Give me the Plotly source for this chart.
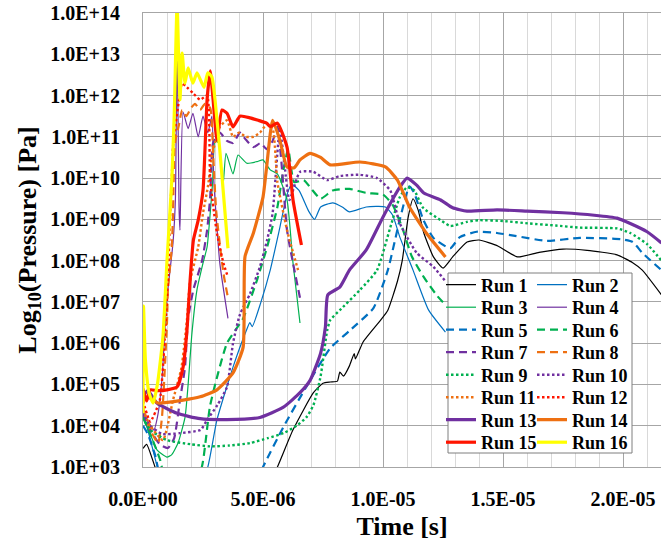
import plotly.graph_objects as go

# ---- data: time in microseconds, pressure as log10(Pa) ----
run1_t = [0.0, 0.15, 0.5, 0.9, 5.0, 5.6, 6.25, 7.1, 7.5, 7.8, 8.1, 8.2, 8.35, 8.6, 8.8, 8.85, 9.17, 9.9, 10.2, 10.6, 10.8, 11.05, 11.25, 11.46, 11.7, 12.1, 12.5, 12.9, 13.5, 14.0, 14.8, 15.6, 16.5, 17.5, 18.5, 19.75, 20.4, 20.8, 21.6]
run1_p = [3.45, 3.55, 3.0, 2.3, 2.3, 3.0, 3.9, 4.8, 5.03, 5.06, 5.08, 5.3, 5.2, 5.45, 5.75, 5.62, 6.03, 6.56, 6.8, 7.5, 8.0, 9.06, 9.5, 9.23, 8.67, 8.09, 7.82, 8.09, 8.45, 8.5, 8.35, 8.09, 8.2, 8.28, 8.25, 8.14, 7.95, 7.77, 7.17]

run2_t = [0.0, 0.2, 0.6, 1.0, 2.2, 2.7, 3.08, 3.75, 4.3, 4.45, 4.55, 4.9, 5.3, 5.7, 6.0, 6.2, 6.5, 6.9, 7.15, 7.4, 7.9, 8.3, 8.6, 9.3, 10.1, 10.4, 10.7, 11.25, 11.9, 12.6]
run2_p = [4.3, 3.9, 3.0, 2.3, 2.3, 3.0, 4.14, 5.42, 6.3, 6.5, 6.4, 6.97, 7.77, 8.8, 9.6, 9.85, 9.7, 9.2, 9.0, 9.3, 9.4, 9.3, 9.18, 9.3, 9.3, 9.1, 8.57, 7.77, 6.8, 6.27]

run3_t = [0.0, 0.3, 0.6, 1.0, 1.2, 1.46, 1.75, 1.88, 2.04, 2.25, 2.5, 2.67, 2.8, 2.9, 3.0, 3.15, 3.33, 3.46, 3.75, 3.96, 4.33, 4.75, 5.0, 5.3, 5.6, 6.0, 6.25, 6.54]
run3_p = [4.2, 3.8, 3.4, 3.24, 3.3, 3.58, 4.2, 5.0, 6.25, 7.3, 7.94, 8.33, 9.15, 9.9, 10.9, 10.85, 9.8, 10.6, 10.1, 10.56, 10.36, 10.4, 10.44, 10.2, 10.1, 9.47, 7.94, 6.49]

run4_t = [0.0, 0.2, 0.45, 0.63, 0.8, 0.92, 1.0, 1.25, 1.35, 1.42, 1.5, 1.54, 1.67, 1.88, 2.08, 2.3, 2.5, 2.7, 2.87, 2.95, 3.2, 3.54]
run4_p = [4.4, 4.1, 3.9, 4.3, 5.2, 6.4, 7.1, 8.43, 9.5, 13.6, 9.3, 8.74, 11.6, 11.2, 11.57, 11.0, 11.5, 11.1, 11.5, 9.95, 7.94, 6.6]

run5_t = [0.0, 0.2, 0.5, 0.9, 4.5, 5.0, 5.85, 6.8, 7.8, 8.6, 9.6, 10.2, 10.7, 11.1, 11.3, 11.67, 12.1, 12.8, 13.2, 13.9, 14.75, 15.5, 16.8, 18.2, 19.9, 20.4, 20.8, 21.6]
run5_p = [4.0, 3.8, 3.3, 2.5, 2.3, 3.0, 3.97, 4.94, 5.88, 6.3, 6.85, 7.77, 9.0, 9.8, 9.64, 9.0, 8.55, 8.3, 8.57, 8.7, 8.67, 8.6, 8.48, 8.55, 8.52, 8.45, 8.19, 7.77]

run6_t = [0.0, 0.3, 0.7, 1.0, 2.0, 2.45, 2.8, 3.5, 4.17, 4.75, 5.17, 5.6, 5.85, 6.05, 6.3, 6.7, 7.0, 7.4, 7.9, 8.6, 9.3, 10.0, 10.4, 10.8, 11.2, 11.7, 12.25, 12.6]
run6_p = [4.2, 3.8, 3.2, 2.6, 2.5, 3.0, 4.5, 6.0, 6.6, 7.53, 8.33, 9.3, 10.2, 10.7, 9.9, 9.95, 9.75, 9.5, 9.7, 9.74, 9.64, 9.6, 9.35, 8.8, 8.1, 7.6, 7.15, 6.93]

run7_t = [0.0, 0.3, 0.7, 1.04, 1.3, 1.54, 1.75, 1.88, 2.1, 2.46, 2.67, 2.8, 2.92, 3.2, 3.5, 3.75, 4.04, 4.3, 4.6, 4.9, 5.15, 5.4, 5.6, 5.75, 6.0, 6.25, 6.54]
run7_p = [4.3, 3.9, 3.55, 3.46, 3.7, 4.62, 5.42, 6.6, 7.3, 8.0, 8.74, 9.54, 10.85, 11.1, 10.9, 10.85, 11.1, 10.92, 10.75, 10.85, 10.7, 10.9, 11.24, 10.5, 8.74, 7.94, 7.1]

run8_t = [0.0, 0.3, 0.63, 0.79, 1.0, 1.04, 1.2, 1.25, 1.33, 1.5, 1.63, 1.8, 2.0, 2.17, 2.38, 2.58, 2.8, 2.92, 3.05, 3.35, 3.54]
run8_p = [4.4, 3.9, 3.58, 4.2, 6.5, 7.3, 8.33, 9.15, 10.85, 11.3, 11.65, 11.5, 11.7, 11.8, 11.65, 11.8, 11.7, 10.6, 9.2, 7.7, 7.1]

run9_t = [0.0, 0.3, 1.0, 2.0, 2.8, 3.6, 4.46, 5.2, 5.85, 6.4, 6.8, 7.1, 7.4, 7.67, 7.8, 8.2, 9.04, 9.75, 10.3, 10.7, 11.0, 11.3, 11.67, 12.4, 12.8, 13.5, 14.0, 15.0, 16.1, 17.2, 18.2, 19.75, 20.3, 21.0, 21.6]
run9_p = [4.2, 3.9, 3.65, 3.55, 3.5, 3.52, 3.58, 3.7, 3.82, 4.0, 4.2, 4.5, 5.2, 6.3, 6.56, 6.8, 7.29, 7.77, 8.8, 9.54, 9.78, 9.7, 9.28, 8.98, 8.84, 8.94, 8.98, 8.96, 8.9, 8.85, 8.8, 8.78, 8.67, 8.4, 8.0]

run10_t = [0.0, 0.3, 0.8, 1.54, 2.4, 2.67, 3.1, 3.5, 3.75, 4.04, 4.46, 4.87, 5.17, 5.4, 5.7, 5.9, 6.1, 6.54, 7.1, 7.67, 8.2, 9.04, 9.75, 10.3, 10.7, 11.4, 12.1, 12.6]
run10_p = [4.3, 4.0, 3.8, 3.82, 3.9, 4.14, 4.5, 4.94, 6.0, 6.7, 7.2, 7.85, 8.5, 9.15, 11.2, 10.3, 9.47, 10.15, 10.15, 9.95, 10.05, 10.08, 10.0, 9.7, 8.9, 8.19, 7.85, 7.5]

run11_t = [0.0, 0.3, 0.83, 1.25, 1.6, 1.83, 1.96, 2.3, 2.5, 2.7, 2.9, 3.2, 3.5, 3.75, 4.0, 4.3, 4.6, 4.87, 5.15, 5.4, 5.6, 6.0, 6.25, 6.46]
run11_p = [4.4, 4.0, 3.65, 4.62, 5.4, 6.56, 7.5, 8.33, 9.15, 9.78, 10.6, 11.24, 11.4, 11.0, 11.1, 11.0, 11.0, 11.1, 11.3, 11.2, 9.9, 8.74, 8.2, 7.77]

run12_t = [0.0, 0.3, 0.7, 0.92, 1.0, 1.04, 1.13, 1.2, 1.25, 1.54, 1.63, 1.83, 2.08, 2.38, 2.67, 2.8, 3.08, 3.35, 3.54]
run12_p = [4.6, 4.1, 4.62, 6.25, 7.05, 7.5, 9.15, 9.95, 10.75, 12.06, 12.3, 12.2, 12.06, 11.9, 12.0, 9.95, 8.67, 7.94, 7.6]

run13_t = [0.0, 0.2, 0.58, 1.42, 2.38, 3.5, 4.87, 5.85, 6.54, 6.96, 7.4, 7.6, 7.7, 8.2, 8.6, 9.3, 10.0, 10.7, 11.0, 11.4, 11.7, 12.4, 12.9, 13.5, 14.75, 16.0, 17.5, 18.8, 19.75, 20.3, 21.0, 21.6]
run13_p = [4.7, 4.85, 4.55, 4.3, 4.17, 4.15, 4.2, 4.45, 4.8, 5.1, 5.76, 6.4, 7.17, 7.36, 7.77, 8.26, 9.06, 9.78, 10.0, 9.83, 9.64, 9.47, 9.28, 9.2, 9.23, 9.2, 9.16, 9.1, 9.03, 8.9, 8.7, 8.43]

run14_t = [0.0, 0.2, 0.63, 1.67, 2.38, 3.08, 3.75, 4.17, 4.25, 4.6, 5.0, 5.15, 5.4, 5.7, 6.0, 6.3, 6.54, 6.96, 7.4, 7.8, 9.04, 10.1, 10.6, 11.1, 11.8, 12.6]
run14_p = [4.6, 4.7, 4.55, 4.62, 4.7, 4.87, 5.28, 5.9, 8.1, 8.67, 9.54, 10.27, 11.4, 10.92, 10.27, 10.25, 10.44, 10.6, 10.5, 10.32, 10.39, 10.27, 9.95, 9.3, 8.67, 8.09]

run15_t = [0.0, 0.15, 0.3, 0.6, 1.0, 1.42, 1.67, 1.83, 1.96, 2.1, 2.3, 2.5, 2.67, 2.8, 2.92, 3.08, 3.29, 3.5, 3.75, 4.04, 4.46, 4.8, 5.15, 5.3, 5.6, 6.0, 6.25, 6.6]
run15_p = [4.9, 4.6, 4.87, 4.85, 4.87, 4.94, 5.42, 6.3, 7.5, 8.5, 8.98, 9.7, 11.9, 12.6, 11.9, 10.92, 11.65, 11.57, 11.24, 11.5, 11.46, 11.4, 11.33, 11.25, 11.33, 10.75, 9.47, 8.38]

run16_t = [0.0, 0.02, 0.1, 0.25, 0.42, 0.6, 0.83, 1.0, 1.2, 1.3, 1.42, 1.54, 1.63, 1.75, 1.88, 2.08, 2.25, 2.54, 2.7, 2.87, 3.0, 3.2, 3.54]
run16_p = [4.3, 6.9, 5.6, 4.8, 4.55, 5.0, 6.15, 8.0, 9.95, 11.5, 14.2, 11.9, 13.03, 12.3, 12.67, 12.3, 12.55, 12.2, 12.55, 12.45, 11.9, 10.68, 8.3]

run_names = ["Run 1", "Run 2", "Run 3", "Run 4", "Run 5", "Run 6", "Run 7", "Run 8",
             "Run 9", "Run 10", "Run 11", "Run 12", "Run 13", "Run 14", "Run 15", "Run 16"]
run_times = [run1_t, run2_t, run3_t, run4_t, run5_t, run6_t, run7_t, run8_t,
             run9_t, run10_t, run11_t, run12_t, run13_t, run14_t, run15_t, run16_t]
run_logp = [run1_p, run2_p, run3_p, run4_p, run5_p, run6_p, run7_p, run8_p,
            run9_p, run10_p, run11_p, run12_p, run13_p, run14_p, run15_p, run16_p]

y_tick_vals = [1e3, 1e4, 1e5, 1e6, 1e7, 1e8, 1e9, 1e10, 1e11, 1e12, 1e13, 1e14]
y_tick_text = ["1.0E+03", "1.0E+04", "1.0E+05", "1.0E+06", "1.0E+07", "1.0E+08",
               "1.0E+09", "1.0E+10", "1.0E+11", "1.0E+12", "1.0E+13", "1.0E+14"]
x_tick_vals = [0.0, 5e-6, 1e-5, 1.5e-5, 2e-5]
x_tick_text = ["0.0E+00", "5.0E-06", "1.0E-05", "1.5E-05", "2.0E-05"]

# ---- styles ----
BLACK, BLUE, GREEN, PURPLE = "#000000", "#0070C0", "#00B050", "#7030A0"
ORANGE, RED, YELLOW = "#EE7012", "#FF1500", "#FFFF00"
DASH = "8px,5px"
DOT = "2.5px,2.5px"
styles = [
    (BLACK, 1.2, "solid"), (BLUE, 1.2, "solid"), (GREEN, 1.2, "solid"), (PURPLE, 1.2, "solid"),
    (BLUE, 2.2, DASH), (GREEN, 2.2, DASH), (PURPLE, 2.2, DASH), (ORANGE, 2.2, DASH),
    (GREEN, 2.4, DOT), (PURPLE, 2.4, DOT), (ORANGE, 2.4, DOT), (RED, 2.4, DOT),
    (PURPLE, 3.2, "solid"), (ORANGE, 3.2, "solid"), (RED, 3.2, "solid"), (YELLOW, 3.2, "solid"),
]

W, H = 661, 546
ML, MR, MT, MB = 143, 0, 13, 79
PW, PH = W - ML - MR, H - MT - MB

FONT = "Liberation Serif"


def px_to_paper(px, py):
    return (px - ML) / PW, (H - MB - py) / PH


fig = go.Figure()
layout_legends = {}
for i, (name, ts, lps, (col, lw, dash)) in enumerate(zip(run_names, run_times, run_logp, styles)):
    lg = "legend" if i == 0 else f"legend{i + 1}"
    fig.add_trace(go.Scatter(
        x=[t * 1e-6 for t in ts], y=[10 ** v for v in lps], mode="lines", name=name,
        line=dict(color=col, width=lw, dash=dash, shape="spline", smoothing=0.5),
        legend=lg, showlegend=True, hoverinfo="skip",
    ))
    row, c = i // 2, i % 2
    lx, ly = px_to_paper(441 if c == 0 else 532, 285 + 22.5 * row)
    layout_legends[lg] = dict(
        x=lx, y=ly, xref="paper", yref="paper",
        xanchor="left", yanchor="middle", bgcolor="rgba(0,0,0,0)", borderwidth=0,
        font=dict(family=FONT, size=18, color="black", weight="bold"),
        itemwidth=30, tracegroupgap=0,
    )

# legend frame (white box with gray border)
bx0, by0 = px_to_paper(448, 453)
bx1, by1 = px_to_paper(632, 273)
fig.add_shape(type="rect", xref="paper", yref="paper", layer="above",
              x0=bx0, x1=bx1, y0=by0, y1=by1,
              line=dict(color="#7F7F7F", width=1), fillcolor="white")

tick_font = dict(family=FONT, size=20, color="black", weight="bold")
fig.update_layout(
    width=W, height=H,
    margin=dict(l=ML, r=MR, t=MT, b=MB, pad=0, autoexpand=False),
    paper_bgcolor="white", plot_bgcolor="white",
    xaxis=dict(
        range=[0, 2.158e-5], tickmode="array", tickvals=x_tick_vals, ticktext=x_tick_text,
        tickfont=tick_font, showgrid=True, gridcolor="#A6A6A6", gridwidth=1,
        minor=dict(tickmode="linear", tick0=0, dtick=1e-6, showgrid=True,
                   gridcolor="#D9D9D9", gridwidth=1, ticks=""),
        showline=True, linecolor="#A6A6A6", mirror=True, zeroline=False,
        ticks="", ticklabelstandoff=14,
        title=dict(text="Time [s]", font=dict(family=FONT, size=26, color="black", weight="bold"),
                   standoff=7),
    ),
    yaxis=dict(
        type="log", range=[3, 14], tickmode="array", tickvals=y_tick_vals, ticktext=y_tick_text,
        tickfont=tick_font, showgrid=True, gridcolor="#A6A6A6", gridwidth=1,
        showline=True, linecolor="#A6A6A6", zeroline=False, ticks="", ticklabelstandoff=18,
        title=dict(text="Log<sub>10</sub>(Pressure) [Pa]",
                   font=dict(family=FONT, size=26, color="black", weight="bold"), standoff=6),
    ),
    **layout_legends,
)

fig.write_html("out.html")
